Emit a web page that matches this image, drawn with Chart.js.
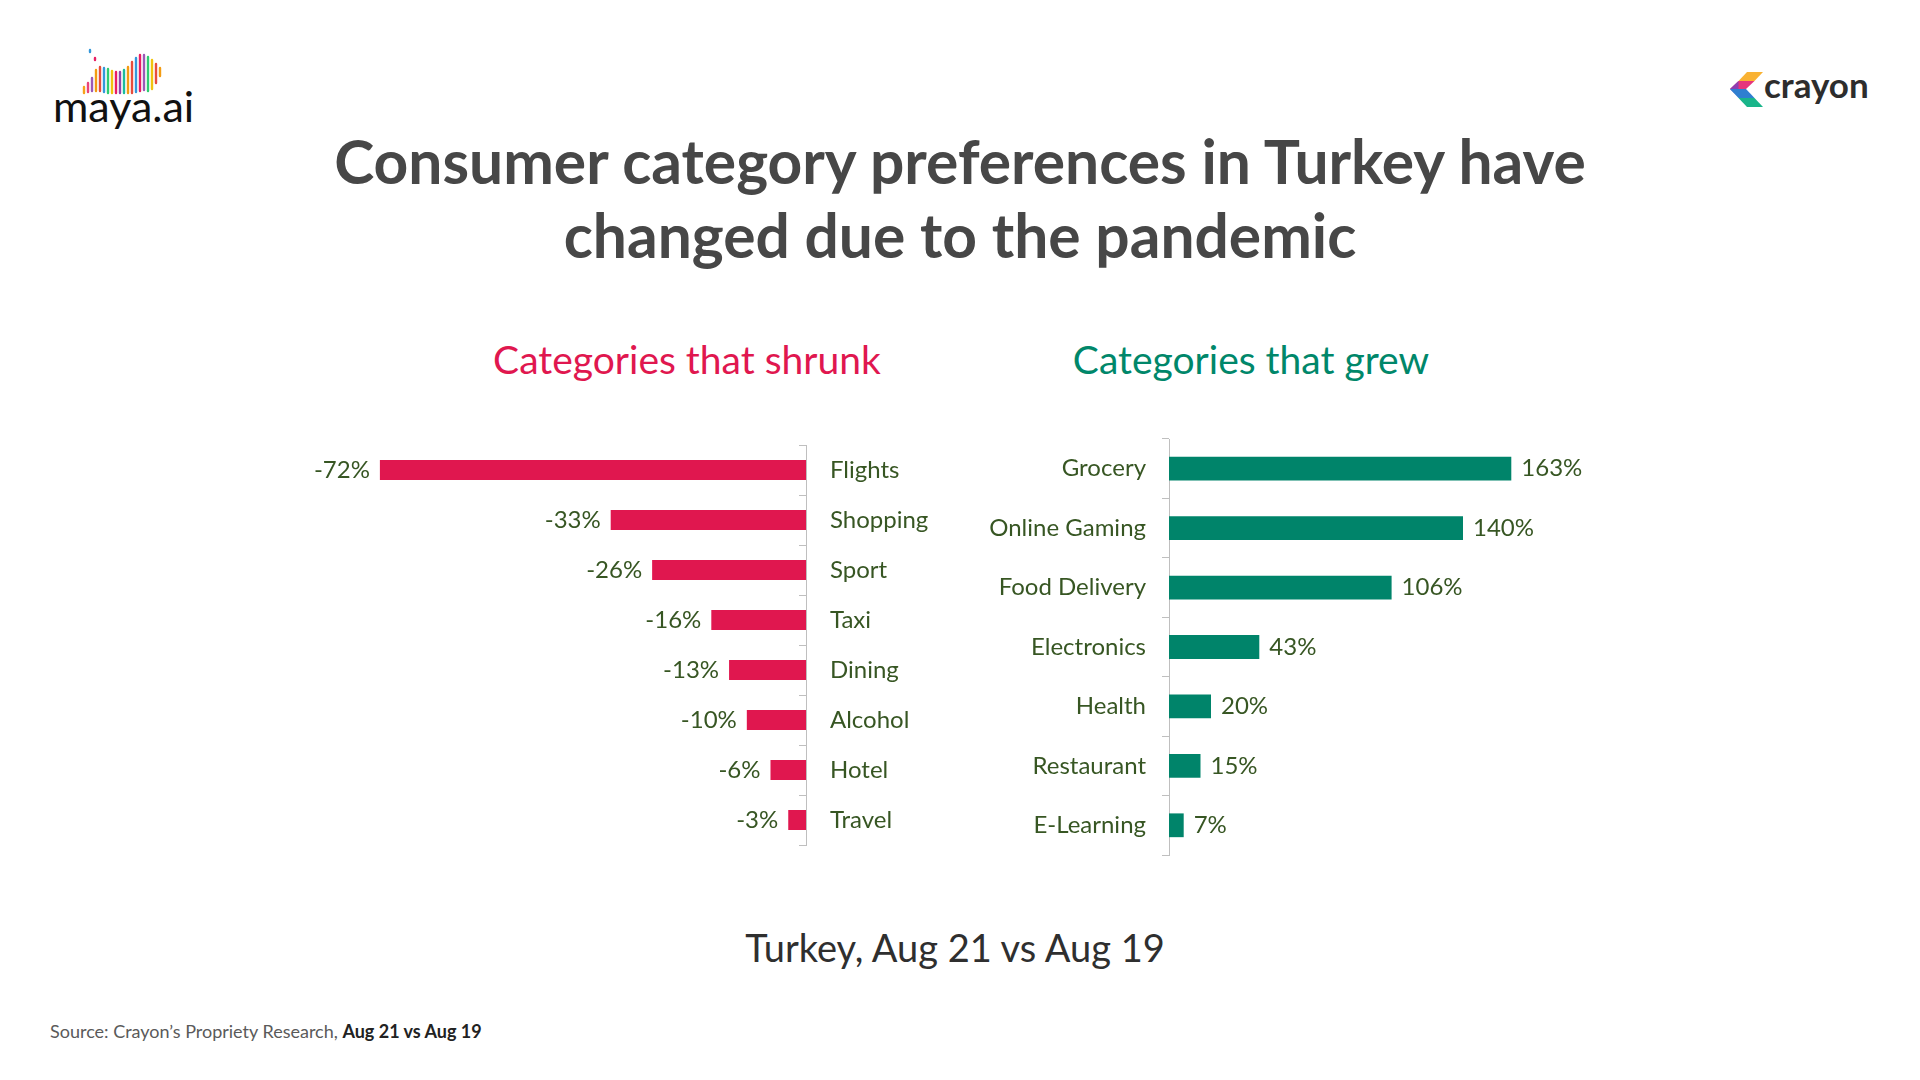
<!DOCTYPE html>
<html>
<head>
<meta charset="utf-8">
<script src="https://cdn.jsdelivr.net/npm/chart.js@4.4.0/dist/chart.umd.min.js"></script>
<style>
  body { margin: 0; width: 1920px; height: 1080px; background: #fff; position: relative; overflow: hidden; font-family: Lato, sans-serif; }
  .abs { position: absolute; }
  #title { left: 0; width: 1920px; top: 124px; text-align: center; font-weight: 700; font-size: 60.5px; line-height: 74px; color: #474747; }
  .sub { width: 600px; text-align: center; font-size: 39px; line-height: 40px; top: 339px; }
  #subLeft { left: 387px; color: #e0174f; }
  #subRight { left: 951px; color: #00876a; }
  #period { left: 0; width: 1910px; text-align: center; top: 927px; font-size: 38px; line-height: 40px; color: #2f2f2f; }
  #source { left: 50px; top: 1021px; font-size: 18px; line-height: 20px; color: #5a5a5a; }
  #source b { color: #222; font-weight: 700; }
  #shrunkChart { left: 300px; top: 395px; }
  #grewChart { left: 940px; top: 389px; }
</style>
</head>
<body>

<svg class="abs" style="left:0;top:0" width="260" height="140">
  <g stroke-width="2.4" stroke-linecap="round">
    <line x1="84" y1="93" x2="84" y2="87" stroke="#f7a21b"/>
    <line x1="88" y1="92" x2="88" y2="83" stroke="#e9447a"/>
    <line x1="92" y1="91" x2="92" y2="78" stroke="#9b59b6"/>
    <line x1="96" y1="91" x2="96" y2="70" stroke="#f39c12"/>
    <line x1="100" y1="91" x2="100" y2="67" stroke="#e74c3c"/>
    <line x1="104" y1="92" x2="104" y2="68" stroke="#3498db"/>
    <line x1="108" y1="93" x2="108" y2="69" stroke="#2ecc71"/>
    <line x1="112" y1="93" x2="112" y2="71" stroke="#f1c40f"/>
    <line x1="116" y1="93" x2="116" y2="72" stroke="#e91e63"/>
    <line x1="120" y1="93" x2="120" y2="72" stroke="#8e44ad"/>
    <line x1="124" y1="93" x2="124" y2="70" stroke="#1abc9c"/>
    <line x1="128" y1="93" x2="128" y2="67" stroke="#f39c12"/>
    <line x1="132" y1="93" x2="132" y2="62" stroke="#e74c3c"/>
    <line x1="136" y1="92" x2="136" y2="58" stroke="#3498db"/>
    <line x1="140" y1="91" x2="140" y2="55" stroke="#e91e63"/>
    <line x1="144" y1="90" x2="144" y2="55" stroke="#9b59b6"/>
    <line x1="148" y1="91" x2="148" y2="57" stroke="#2ecc71"/>
    <line x1="152" y1="89" x2="152" y2="60" stroke="#f1c40f"/>
    <line x1="156" y1="83" x2="156" y2="64" stroke="#e74c3c"/>
    <line x1="160" y1="76" x2="160" y2="68" stroke="#f39c12"/>
    <line x1="90" y1="52" x2="90" y2="50" stroke="#3498db"/>
    <line x1="95" y1="60" x2="95" y2="58" stroke="#e91e63"/>
  </g>
  <text x="53" y="122" font-family="Lato" font-size="43" fill="#111">maya.ai</text>
</svg>

<svg class="abs" style="left:1700px;top:50px" width="200" height="80">
  <polygon points="47,22 63,22 54.5,31 38.5,31" fill="#f9b233"/>
  <polygon points="38.5,31 54.5,31 46,39 30,39" fill="#e6357c"/>
  <polygon points="30,39 38.5,31 38.5,47" fill="#8e3fb0"/>
  <polygon points="30,39 46,39 54.5,48 38.5,48" fill="#2f7fd0"/>
  <polygon points="38.5,48 54.5,48 63,57 47,57" fill="#19b58a"/>
  <text x="64" y="48" font-family="Lato" font-weight="700" font-size="35" fill="#2d2d2d">crayon</text>
</svg>

<div id="title" class="abs">Consumer category preferences in Turkey have<br>changed due to the pandemic</div>
<div id="subLeft" class="abs sub">Categories that shrunk</div>
<div id="subRight" class="abs sub">Categories that grew</div>

<canvas id="shrunkChart" class="abs" width="646" height="500"></canvas>
<canvas id="grewChart" class="abs" width="649" height="516"></canvas>

<div id="period" class="abs">Turkey, Aug 21 vs Aug 19</div>
<div id="source" class="abs">Source: Crayon’s Propriety Research, <b>Aug 21 vs Aug 19</b></div>

<script>
var shrunkLabels = ['Flights', 'Shopping', 'Sport', 'Taxi', 'Dining', 'Alcohol', 'Hotel', 'Travel'];
var shrunkValues = [-72, -33, -26, -16, -13, -10, -6, -3];

var grewLabels = ['Grocery', 'Online Gaming', 'Food Delivery', 'Electronics', 'Health', 'Restaurant', 'E-Learning'];
var grewValues = [163, 140, 106, 43, 20, 15, 7];

var labelColor = '#375623';
var axisColor = '#bfbfbf';
var labelFont = { family: 'Lato', size: 24 };

// value labels next to each bar end
var valueLabels = {
    id: 'valueLabels',
    afterDatasetsDraw: function (chart) {
        var ctx = chart.ctx;
        var values = chart.data.datasets[0].data;
        ctx.save();
        ctx.font = '24px Lato';
        ctx.fillStyle = labelColor;
        ctx.textBaseline = 'middle';
        chart.getDatasetMeta(0).data.forEach(function (bar, i) {
            var v = values[i];
            if (v < 0) {
                ctx.textAlign = 'right';
                ctx.fillText(v + '%', bar.x - 10, bar.y);
            } else {
                ctx.textAlign = 'left';
                ctx.fillText(v + '%', bar.x + 10, bar.y);
            }
        });
        ctx.restore();
    }
};

var baseOptions = function (yAxis, xMin, xMax) {
    return {
        indexAxis: 'y',
        responsive: false,
        animation: false,
        layout: { padding: { top: 50, bottom: 50, left: 0, right: 0 } },
        plugins: { legend: { display: false }, tooltip: { enabled: false } },
        scales: {
            x: { display: false, min: xMin, max: xMax },
            y: yAxis
        }
    };
};

new Chart(document.getElementById('shrunkChart'), {
    type: 'bar',
    data: {
        labels: shrunkLabels,
        datasets: [{
            data: shrunkValues,
            backgroundColor: '#e0174f',
            barPercentage: 0.4,
            categoryPercentage: 1.0
        }]
    },
    options: baseOptions({
        position: 'right',
        border: { color: axisColor },
        grid: { drawOnChartArea: false, tickLength: -7, color: axisColor },
        ticks: { padding: 31, color: labelColor, font: labelFont },
        afterFit: function (s) { s.width = 140; }
    }, -85.5, 0),
    plugins: [valueLabels]
});

new Chart(document.getElementById('grewChart'), {
    type: 'bar',
    data: {
        labels: grewLabels,
        datasets: [{
            data: grewValues,
            backgroundColor: '#00846a',
            barPercentage: 0.4,
            categoryPercentage: 1.0
        }]
    },
    options: baseOptions({
        position: 'left',
        border: { color: axisColor },
        grid: { drawOnChartArea: false, tickLength: 7, color: axisColor },
        ticks: { padding: 16, color: labelColor, font: labelFont },
        afterFit: function (s) { s.width = 229; }
    }, 0, 200),
    plugins: [valueLabels]
});
</script>
</body>
</html>
